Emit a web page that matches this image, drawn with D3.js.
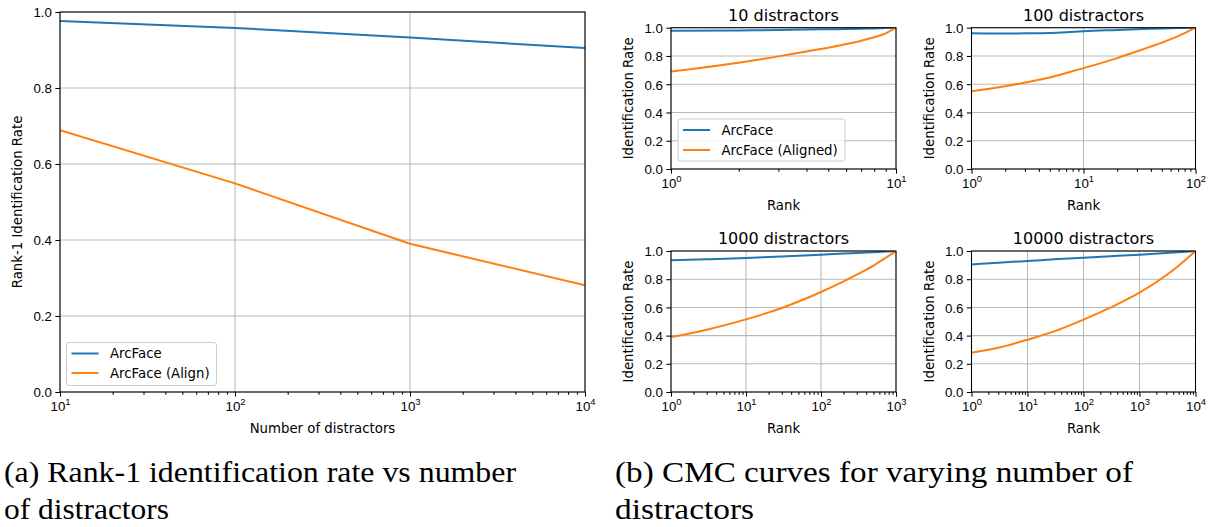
<!DOCTYPE html>
<html>
<head>
<meta charset="utf-8">
<script src="https://cdn.jsdelivr.net/npm/d3@7"></script>
<style>
  html, body { margin: 0; padding: 0; background: #fff; }
  svg { display: block; }
  text { fill: #000; }
  .sans { font-family: "DejaVu Sans", sans-serif; }
  .serif { font-family: "Liberation Serif", "DejaVu Serif", serif; }
</style>
</head>
<body>
<svg id="fig" width="1218" height="527"></svg>
<script>
// ---- data -------------------------------------------------------------
const seriesNames = ["ArcFace", "ArcFace (Align)"];
const cmcSeriesNames = ["ArcFace", "ArcFace (Aligned)"];
const yTicks = [0.0, 0.2, 0.4, 0.6, 0.8, 1.0];

// (a) rank-1 identification rate vs number of distractors
const distractors = [10, 100, 1000, 10000];
const rank1ArcFace = [0.976, 0.958, 0.933, 0.905];
const rank1Aligned = [0.689, 0.549, 0.390, 0.281];

// (b) CMC curves, one per gallery size
const cmcTitles = ["10 distractors", "100 distractors", "1000 distractors", "10000 distractors"];
const cmcMaxRank = [10, 100, 1000, 10000];

const cmcRanks10 = [1, 2, 3, 4, 5, 6, 7, 8, 9, 10];
const cmcArcFace10 = [0.978, 0.981, 0.984, 0.987, 0.989, 0.991, 0.993, 0.995, 0.997, 1.0];
const cmcAligned10 = [0.690, 0.752, 0.797, 0.832, 0.858, 0.884, 0.908, 0.932, 0.960, 1.0];

const cmcRanks100 = [1, 2, 3, 5, 7, 10, 20, 30, 50, 70, 100];
const cmcArcFace100 = [0.960, 0.959, 0.960, 0.963, 0.968, 0.975, 0.984, 0.989, 0.994, 0.997, 1.0];
const cmcAligned100 = [0.551, 0.586, 0.612, 0.648, 0.680, 0.714, 0.785, 0.832, 0.894, 0.940, 1.0];

const cmcRanks1000 = [1, 3, 10, 30, 100, 200, 300, 500, 1000];
const cmcArcFace1000 = [0.934, 0.941, 0.950, 0.961, 0.974, 0.982, 0.986, 0.992, 1.0];
const cmcAligned1000 = [0.390, 0.442, 0.515, 0.596, 0.709, 0.784, 0.832, 0.897, 1.0];

const cmcRanks10000 = [1, 3, 10, 30, 100, 300, 1000, 3000, 5000, 10000];
const cmcArcFace10000 = [0.905, 0.917, 0.929, 0.941, 0.953, 0.963, 0.974, 0.986, 0.992, 1.0];
const cmcAligned10000 = [0.279, 0.314, 0.371, 0.430, 0.513, 0.598, 0.704, 0.828, 0.896, 1.0];

const captionA = ["(a) Rank-1 identification rate vs number", "of distractors"];
const captionB = ["(b) CMC curves for varying number of", "distractors"];

// ---- styling ----------------------------------------------------------
const COLORS = ["#1f77b4", "#ff7f0e"];
const FS = 13.3;
const MAJOR = 4.67, MINOR = 2.67;
const GRID = "#b8b8b8";

const svg = d3.select("#fig");
svg.append("rect").attr("width", 1218).attr("height", 527).attr("fill", "#fff");

let clipId = 0;

function expLabel(sel) {
  // render 10^k labels as "10" with a raised exponent
  sel.each(function (d) {
    const t = d3.select(this);
    const k = Math.round(Math.log10(d));
    t.text(null);
    t.append("tspan").text("10");
    t.append("tspan").attr("dy", -5.6).attr("font-size", 9.4).text(k);
  });
}

function drawPanel(box, xDomain, series, opts) {
  const g = svg.append("g").attr("class", "sans");
  const x = d3.scaleLog().domain(xDomain).range([box.x0, box.x1]);
  const y = d3.scaleLinear().domain([0, 1]).range([box.y1, box.y0]);

  const lo = Math.round(Math.log10(xDomain[0])), hi = Math.round(Math.log10(xDomain[1]));
  const majors = d3.range(lo, hi + 1).map(e => Math.pow(10, e));
  const minors = [];
  for (let e = lo; e < hi; e++) for (let m = 2; m <= 9; m++) minors.push(m * Math.pow(10, e));

  // grid
  const grid = g.append("g").attr("stroke", GRID).attr("stroke-width", 1.05);
  grid.selectAll(".gx").data(majors).join("line")
    .attr("x1", d => x(d)).attr("x2", d => x(d)).attr("y1", box.y0).attr("y2", box.y1);
  grid.selectAll(".gy").data(yTicks).join("line")
    .attr("x1", box.x0).attr("x2", box.x1).attr("y1", d => y(d)).attr("y2", d => y(d));

  // series lines
  const cid = "clip" + (clipId++);
  g.append("clipPath").attr("id", cid).append("rect")
    .attr("x", box.x0).attr("y", box.y0).attr("width", box.x1 - box.x0).attr("height", box.y1 - box.y0);
  const line = d3.line().x(d => x(d[0])).y(d => y(d[1]))
    .curve(opts.smooth ? d3.curveMonotoneX : d3.curveLinear);
  series.forEach((s, i) => {
    g.append("path").attr("clip-path", `url(#${cid})`)
      .attr("d", line(d3.zip(s.x, s.y)))
      .attr("fill", "none").attr("stroke", COLORS[i]).attr("stroke-width", 2)
      .attr("stroke-linejoin", "round");
  });

  // axes
  const xMinor = d3.axisBottom(x).tickValues(minors).tickFormat("").tickSize(MINOR).tickSizeOuter(0);
  const xMajor = d3.axisBottom(x).tickValues(majors).tickSize(MAJOR).tickSizeOuter(0).tickPadding(0);
  const yAxis = d3.axisLeft(y).tickValues(yTicks).tickFormat(d3.format(".1f"))
    .tickSize(MAJOR).tickSizeOuter(0).tickPadding(3.4);

  const gxm = g.append("g").attr("transform", `translate(0,${box.y1})`).call(xMinor);
  const gx = g.append("g").attr("transform", `translate(0,${box.y1})`).call(xMajor);
  const gy = g.append("g").attr("transform", `translate(${box.x0},0)`).call(yAxis);
  [gxm, gx, gy].forEach(a => {
    a.select(".domain").remove();
    a.selectAll(".tick line").attr("stroke", "#000").attr("stroke-width", 1.05);
    a.selectAll("text").attr("font-family", null).attr("font-size", FS).attr("fill", "#000");
  });
  gx.selectAll(".tick text").attr("y", 18.6).attr("dy", null).call(expLabel);
  gy.selectAll(".tick text").attr("dy", "0.36em");

  // spines
  g.append("rect").attr("x", box.x0).attr("y", box.y0)
    .attr("width", box.x1 - box.x0).attr("height", box.y1 - box.y0)
    .attr("fill", "none").attr("stroke", "#000").attr("stroke-width", 1.05);

  // labels
  g.append("text").attr("x", (box.x0 + box.x1) / 2).attr("y", box.y1 + 40.5)
    .attr("text-anchor", "middle").attr("font-size", FS).text(opts.xLabel);
  g.append("text")
    .attr("transform", `translate(${opts.yLabelX},${(box.y0 + box.y1) / 2}) rotate(-90)`)
    .attr("text-anchor", "middle").attr("font-size", FS).text(opts.yLabel);
  if (opts.title) {
    g.append("text").attr("x", (box.x0 + box.x1) / 2).attr("y", box.y0 - 7.2)
      .attr("text-anchor", "middle").attr("font-size", 16).text(opts.title);
  }

  // legend
  if (opts.legend) {
    const L = opts.legend;
    const lg = g.append("g");
    lg.append("rect").attr("x", L.x).attr("y", L.y).attr("width", L.w).attr("height", L.h)
      .attr("rx", 2.5).attr("fill", "#fff").attr("fill-opacity", 0.8)
      .attr("stroke", "#cccccc").attr("stroke-width", 1);
    L.names.forEach((name, i) => {
      const cy = L.y + L.first + i * L.step;
      lg.append("line").attr("x1", L.x + 5).attr("x2", L.x + 32).attr("y1", cy).attr("y2", cy)
        .attr("stroke", COLORS[i]).attr("stroke-width", 2);
      lg.append("text").attr("x", L.x + 43.5).attr("y", cy + 4.8).attr("font-size", FS).text(name);
    });
  }
}

// (a)
drawPanel({ x0: 60, x1: 585, y0: 12, y1: 392 }, [10, 10000],
  [{ x: distractors, y: rank1ArcFace }, { x: distractors, y: rank1Aligned }],
  {
    smooth: false, xLabel: "Number of distractors", yLabel: "Rank-1 Identification Rate", yLabelX: 22,
    legend: { x: 66.5, y: 342.5, w: 150, h: 43, first: 11, step: 19.5, names: seriesNames }
  });

// (b)
const cmcRanks = [cmcRanks10, cmcRanks100, cmcRanks1000, cmcRanks10000];
const cmcArcFace = [cmcArcFace10, cmcArcFace100, cmcArcFace1000, cmcArcFace10000];
const cmcAligned = [cmcAligned10, cmcAligned100, cmcAligned1000, cmcAligned10000];
const cols = [[671, 896], [971.5, 1195.5]];
const rows = [[27.7, 169], [251, 392]];
cmcTitles.forEach((title, i) => {
  const c = cols[i % 2], r = rows[Math.floor(i / 2)];
  drawPanel({ x0: c[0], x1: c[1], y0: r[0], y1: r[1] }, [1, cmcMaxRank[i]],
    [{ x: cmcRanks[i], y: cmcArcFace[i] }, { x: cmcRanks[i], y: cmcAligned[i] }],
    {
      smooth: true, xLabel: "Rank", yLabel: "Identification Rate", yLabelX: c[0] - 38, title: title,
      legend: i === 0 ? { x: 678, y: 119, w: 167, h: 42, first: 11, step: 20, names: cmcSeriesNames } : null
    });
});

// captions
function caption(lines, x, widths) {
  lines.forEach((t, i) => {
    svg.append("text").attr("class", "serif").attr("x", x).attr("y", 482 + i * 37)
      .attr("font-size", 30)
      .attr("textLength", widths[i]).attr("lengthAdjust", "spacingAndGlyphs")
      .text(t);
  });
}
caption(captionA, 4, [512, 165]);
caption(captionB, 615, [518, 139]);
</script>
</body>
</html>
